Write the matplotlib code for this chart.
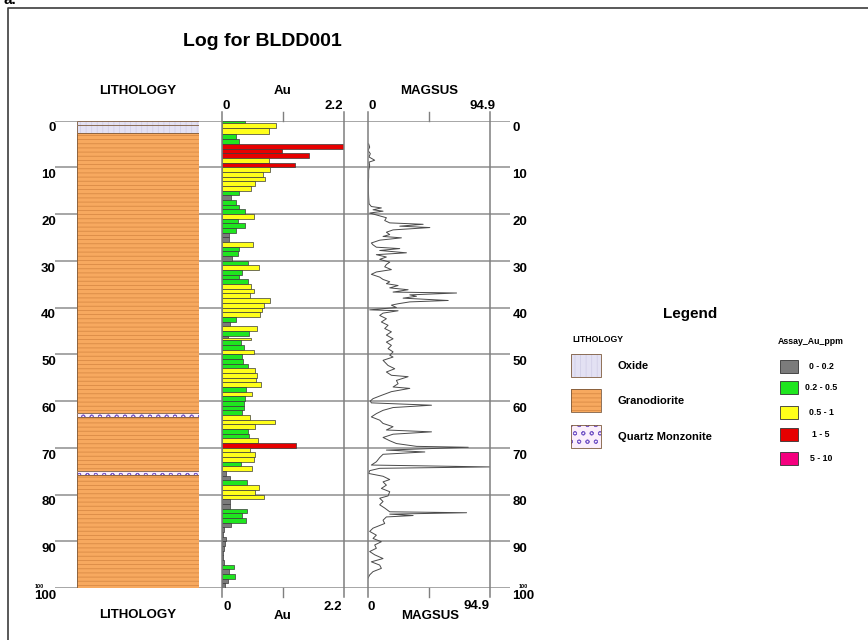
import numpy as np
import matplotlib.pyplot as plt
from matplotlib.patches import Rectangle

plt.rcParams['font.family'] = ['Liberation Sans', 'DejaVu Sans']
plt.rcParams['font.weight'] = 'bold'
plt.rcParams['hatch.linewidth'] = 0.6

W, H = 868, 640

# lithology log (m)
lith_from = [0.0, 1.0, 2.6, 62.6, 63.5, 75.0, 75.9]
lith_to = [1.0, 2.6, 62.6, 63.5, 75.0, 75.9, 100.0]
lith_code = ['Oxide', 'Oxide', 'Granodiorite', 'Quartz Monzonite',
             'Granodiorite', 'Quartz Monzonite', 'Granodiorite']
lith_names = ['Oxide', 'Granodiorite', 'Quartz Monzonite']

# Au assays (ppm)
au_from = [0, 0.5, 1.6, 2.8, 4, 5, 6, 7, 8, 9, 10, 11, 12, 13, 14, 15, 16, 17, 18, 19,
           20, 21, 22, 23, 24, 25, 26, 27, 28, 29, 30, 31, 32, 33, 34, 35, 36, 37, 38, 39,
           40, 41, 42, 43, 44, 45, 46, 46.5, 47, 48, 49, 50, 51, 52, 53, 54, 55, 56, 57, 58,
           59, 60, 61, 62, 63, 64, 65, 66, 67, 68, 69, 70, 71, 72, 73, 74, 75, 76, 77, 78,
           79, 80, 81, 82, 83, 84, 85, 86, 87, 88, 89, 90, 91, 92, 93, 94, 95, 96, 97, 98, 99]
au_to = [0.5, 1.6, 2.8, 4, 5, 6, 7, 8, 9, 10, 11, 12, 13, 14, 15, 16, 17, 18, 19, 20,
         21, 22, 23, 24, 25, 26, 27, 28, 29, 30, 31, 32, 33, 34, 35, 36, 37, 38, 39, 40,
         41, 42, 43, 44, 45, 46, 46.5, 47, 48, 49, 50, 51, 52, 53, 54, 55, 56, 57, 58, 59,
         60, 61, 62, 63, 64, 65, 66, 67, 68, 69, 70, 71, 72, 73, 74, 75, 76, 77, 78, 79,
         80, 81, 82, 83, 84, 85, 86, 87, 88, 89, 90, 91, 92, 93, 94, 95, 96, 97, 98, 99, 100]
au_ppm = [0.42, 0.98, 0.84, 0.25, 0.31, 2.2, 1.09, 1.57, 0.84, 1.32,
          0.87, 0.74, 0.77, 0.60, 0.53, 0.31, 0.16, 0.25, 0.30, 0.42,
          0.57, 0.29, 0.41, 0.25, 0.13, 0.13, 0.56, 0.30, 0.28, 0.18,
          0.47, 0.66, 0.36, 0.31, 0.47, 0.53, 0.57, 0.51, 0.87, 0.75,
          0.73, 0.68, 0.25, 0.15, 0.63, 0.48, 0.10, 0.53, 0.34, 0.40, 0.57,
          0.36, 0.37, 0.47, 0.59, 0.63, 0.62, 0.71, 0.44, 0.54, 0.42,
          0.40, 0.39, 0.36, 0.51, 0.95, 0.60, 0.47, 0.48, 0.65, 1.33,
          0.51, 0.60, 0.57, 0.34, 0.54, 0.08, 0.15, 0.45, 0.66, 0.59,
          0.75, 0.15, 0.15, 0.45, 0.36, 0.44, 0.17, 0.04, 0.02, 0.07,
          0.06, 0.03, 0.01, 0.01, 0.04, 0.22, 0.12, 0.24, 0.11, 0.05]
au_bins = [0, 0.2, 0.5, 1, 5, 10]
au_bin_labels = ['0 - 0.2', '0.2 - 0.5', '0.5 - 1', '1 - 5', '5 - 10']
au_colors = ['#7b7b7b', '#1fe61f', '#ffff1a', '#e60000', '#f5007f']

# magnetic susceptibility trace
mag_depth = [5.0, 5.7, 6.4, 7.1, 7.8, 8.5, 8.9, 9.6, 10.7, 12.1, 13.5, 15.0, 16.4, 17.8, 18.4,
             18.7, 19.1, 19.4, 19.8, 20.3, 20.8, 21.4, 21.9, 22.2, 22.6, 22.9, 23.4, 23.9,
             24.4, 24.8, 25.1, 25.6, 26.2, 26.6, 27.1, 27.4, 27.8, 28.3, 28.7, 29.2, 29.7,
             30.3, 30.8, 31.3, 31.9, 32.4, 32.9, 33.5, 34.0, 34.5, 34.9, 35.3, 35.8, 36.2,
             36.7, 36.9, 37.3, 37.6, 38.0, 38.5, 38.8, 39.2, 39.5, 40.0, 40.5, 40.7, 41.2,
             41.7, 42.4, 43.1, 43.8, 44.5, 45.2, 45.9, 46.7, 47.4, 48.1, 48.8, 49.5, 50.2,
             50.6, 51.3, 52.4, 53.1, 53.8, 54.5, 54.8, 55.6, 56.3, 57.0, 57.3, 58.0, 58.8,
             59.5, 60.0, 60.4, 60.9, 61.4, 62.0, 62.7, 63.4, 64.1, 64.8, 65.5, 66.2, 66.6,
             67.1, 67.8, 68.5, 69.1, 69.7, 69.9, 70.2, 70.5, 70.9, 71.4, 72.1, 73.0, 73.7,
             74.1, 74.4, 74.9, 75.5, 76.1, 76.8, 77.3, 78.0, 78.7, 79.4, 80.3, 80.8, 81.5,
             82.2, 82.9, 83.7, 83.9, 84.2, 84.5, 84.8, 85.5, 86.2, 87.2, 87.9, 88.7, 89.4,
             90.1, 90.8, 91.5, 92.2, 92.9, 93.7, 94.4, 95.1, 95.8, 96.5, 97.2, 97.9]
mag_val = [0.5, 1.3, 0.0, 1.8, 0.8, 5.2, 0.8, 1.3, 0.5, 0.5, 0.3, 0.3, 0.5, 0.8, 2.6,
           10.4, 3.9, 11.7, 1.3, 7.8, 14.3, 13.0, 16.9, 42.9, 24.7, 48.1, 19.5, 14.3,
           16.9, 11.7, 26.0, 9.1, 2.6, 3.9, 6.5, 24.7, 9.1, 29.9, 6.5, 14.3, 9.1,
           16.9, 14.3, 13.0, 18.2, 6.5, 2.6, 9.1, 11.7, 16.9, 14.3, 23.4, 16.9, 31.2,
           19.5, 68.9, 32.5, 37.7, 27.3, 62.4, 32.5, 23.4, 18.2, 22.1, 1.3, 23.4, 11.7,
           9.1, 14.3, 10.4, 15.6, 13.0, 18.2, 14.3, 19.5, 14.3, 18.2, 15.6, 19.5, 16.9,
           19.5, 11.7, 15.6, 20.8, 14.3, 18.2, 31.2, 22.1, 23.4, 19.5, 32.5, 18.2, 10.4,
           3.9, 1.8, 2.6, 49.4, 19.5, 11.7, 6.5, 2.6, 9.1, 11.7, 19.5, 14.3, 49.4,
           19.5, 11.7, 16.9, 22.1, 37.7, 78.0, 45.5, 14.3, 44.2, 11.7, 9.1, 6.5, 2.6,
           94.9, 9.1, 1.3, 0.5, 11.7, 16.9, 11.7, 14.3, 10.4, 16.9, 15.6, 9.1, 11.7,
           9.1, 13.0, 16.9, 76.7, 16.9, 35.1, 14.3, 11.7, 13.0, 3.9, 1.3, 6.5, 3.9,
           10.4, 5.2, 6.5, 1.3, 5.2, 11.7, 2.6, 9.1, 10.4, 3.9, 1.3, 0.0]

depth_ticks = [0, 10, 20, 30, 40, 50, 60, 70, 80, 90, 100]
au_max = 2.2
mag_max = 94.9

# pattern per lithology: face, hatch, hatch colour
lith_style = {
    'Oxide': ('#e3e1f3', '|||', '#d2cfe8'),
    'Granodiorite': ('#f7a95f', '----', '#d98a45'),
    'Quartz Monzonite': ('#fbeefb', 'oo', '#7a5cc8'),
}


def unit_patch(ax, x, y, w, h, code, **kw):
    fc, hatch, hc = lith_style[code]
    ax.add_patch(Rectangle((x, y), w, h, facecolor=fc, hatch=hatch, edgecolor=hc, lw=0, **kw))
    ax.add_patch(Rectangle((x, y), w, h, fill=False, edgecolor='#7d5a3c', lw=0.6, **kw))


fig = plt.figure(figsize=(W / 100, H / 100), dpi=100)

# overlay for text / frame / legend in pixel units
ov = fig.add_axes([0, 0, 1, 1])
ov.set_xlim(0, W)
ov.set_ylim(H, 0)
ov.axis('off')

TOP, BOT = 120.5, 588


def track(x0, x1):
    a = fig.add_axes([x0 / W, 1 - BOT / H, (x1 - x0) / W, (BOT - TOP) / H])
    a.set_ylim(100, 0)
    a.axis('off')
    a.patch.set_visible(False)
    return a


# depth grid across the whole log
bg = track(55, 510)
bg.set_xlim(0, 1)
for d in depth_ticks:
    bg.axhline(d, color='#8e8e8e', lw=1.1)
    bg.text(0.002, d + 0.4, str(d), ha='right', va='top', fontsize=9.5)
    bg.text(1.005, d + 0.4, str(d), ha='left', va='top', fontsize=9.5)
bg.text(-0.035, 99.6, '100', ha='center', va='center', fontsize=4)
bg.text(1.03, 99.6, '100', ha='center', va='center', fontsize=4)

# lithology column
lith = track(77, 199)
lith.set_xlim(0, 1)
for f, t, c in zip(lith_from, lith_to, lith_code):
    unit_patch(lith, 0, f, 1, t - f, c)

# Au bars
au = track(222, 344)
au.set_xlim(0, au_max)
cls = np.digitize(au_ppm, au_bins[1:-1])
bar_cols = [au_colors[i] for i in cls]
au.barh(au_from, au_ppm, height=np.array(au_to) - np.array(au_from), align='edge',
        color=bar_cols, edgecolor='#3a3a3a', lw=0.5)
ext = 9 / (BOT - TOP)
for xv in (0, au_max):
    au.axvline(xv, ymin=-ext, ymax=1 + ext * 0.9, color='#7f7f7f', lw=1.1, clip_on=False)
au.axvline(au_max / 2, ymin=1, ymax=1 + ext * 0.9, color='#7f7f7f', lw=1, clip_on=False)
au.axvline(au_max / 2, ymin=-ext, ymax=0, color='#7f7f7f', lw=1, clip_on=False)

# MAGSUS trace
mag = track(368, 490)
mag.set_xlim(0, mag_max)
mag.plot(mag_val, mag_depth, color='#4a4a4a', lw=0.7)
for xv in (0, mag_max):
    mag.axvline(xv, ymin=-ext, ymax=1 + ext * 0.9, color='#7f7f7f', lw=1.1, clip_on=False)
mag.axvline(mag_max / 2, ymin=1, ymax=1 + ext * 0.9, color='#7f7f7f', lw=1, clip_on=False)
mag.axvline(mag_max / 2, ymin=-ext, ymax=0, color='#7f7f7f', lw=1, clip_on=False)

# titles and headers
ov.text(262, 42, 'Log for BLDD001', ha='center', va='center', fontsize=14)
ov.text(138, 91, 'LITHOLOGY', ha='center', va='center', fontsize=9.5)
ov.text(283, 91, 'Au', ha='center', va='center', fontsize=9.5)
ov.text(429, 91, 'MAGSUS', ha='center', va='center', fontsize=9.5)
ov.text(226, 106, '0', ha='center', va='center', fontsize=9.5)
ov.text(334, 106, str(au_max), ha='center', va='center', fontsize=9.5)
ov.text(372, 106, '0', ha='center', va='center', fontsize=9.5)
ov.text(483, 106, str(mag_max), ha='center', va='center', fontsize=9.5)

ov.text(138, 615, 'LITHOLOGY', ha='center', va='center', fontsize=9.5)
ov.text(283, 616, 'Au', ha='center', va='center', fontsize=9.5)
ov.text(430, 616, 'MAGSUS', ha='center', va='center', fontsize=9.5)
ov.text(227, 607, '0', ha='center', va='center', fontsize=9.5)
ov.text(333, 607, str(au_max), ha='center', va='center', fontsize=9.5)
ov.text(371, 607, '0', ha='center', va='center', fontsize=9.5)
ov.text(477, 606, str(mag_max), ha='center', va='center', fontsize=9.5)

# frame
ov.plot([8, 8, W], [H, 8, 8], color='#3c3c3c', lw=1.2)
ov.text(3, 0, 'a.', ha='left', va='center', fontsize=11, clip_on=True)

# legend
ov.text(690, 314, 'Legend', ha='center', va='center', fontsize=11)
ov.text(572, 339, 'LITHOLOGY', ha='left', va='center', fontsize=6.3)
for i, name in enumerate(lith_names):
    y0 = [354, 389, 425][i]
    unit_patch(ov, 571, y0, 30, 23, name)
    ov.text(618, y0 + 12, name, ha='left', va='center', fontsize=8)

ov.text(811, 341, 'Assay_Au_ppm', ha='center', va='center', fontsize=6.3)
for i, lab in enumerate(au_bin_labels):
    y0 = [360, 381, 406, 428, 452][i]
    ov.add_patch(Rectangle((780, y0), 18, 13, facecolor=au_colors[i], edgecolor='#333333', lw=0.6))
    ov.text(821, y0 + 6.5, lab, ha='center', va='center', fontsize=6.3)

fig.savefig('out.png', dpi=100)
